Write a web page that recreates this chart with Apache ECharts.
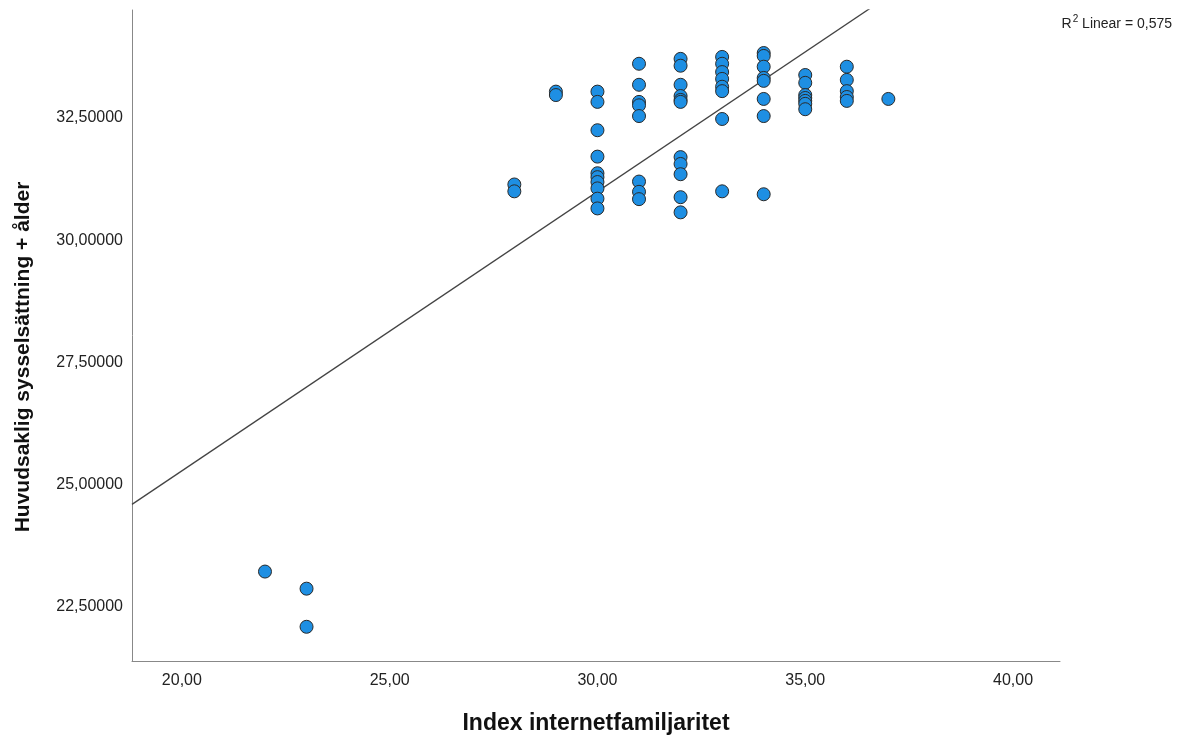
<!DOCTYPE html>
<html>
<head>
<meta charset="utf-8">
<title>Index internetfamiljaritet</title>
<script src="https://cdn.jsdelivr.net/npm/echarts@6/dist/echarts.min.js"></script>
<style>
  html, body { margin: 0; padding: 0; background: #fff; }
  #chart { width: 1202px; height: 742px; }
</style>
</head>
<body>
<div id="chart"></div>
<script>
// Index values (x) and the observed scores for each index value (y)
const familiarityLevels = [22, 23, 28, 29, 30, 31, 32, 33, 34, 35, 36, 37];
const scoresByLevel = [
  [23.22],
  [22.87, 22.09],
  [31.14, 31.00],
  [33.04, 32.97],
  [33.04, 32.83, 32.25, 31.71, 31.37, 31.29, 31.19, 31.06, 30.85, 30.65],
  [33.61, 33.18, 32.83, 32.76, 32.54, 31.20, 30.99, 30.84],
  [33.71, 33.57, 33.18, 32.95, 32.87, 32.83, 31.70, 31.56, 31.35, 30.88, 30.57],
  [33.75, 33.61, 33.44, 33.30, 33.14, 33.05, 32.48, 31.00],
  [33.83, 33.77, 33.55, 33.32, 33.26, 32.89, 32.54, 30.94],
  [33.38, 33.22, 32.97, 32.91, 32.85, 32.79, 32.68],
  [33.55, 33.28, 33.05, 32.93, 32.85],
  [32.89]
];
// Linear fit line (intercept, slope) and its R²
const fitIntercept = 13.85;
const fitSlope = 0.5715;
const fitLabel = '0,575';

const xTicks = [20, 25, 30, 35, 40];
const yTicks = [22.5, 25, 27.5, 30, 32.5];
const xRange = [18.8, 41.13];
const yRange = [21.39, 34.71];
const xTitle = 'Index internetfamiljaritet';
const yTitle = 'Huvudsaklig sysselsättning + ålder';

// Pair every score with its index value
const points = [];
familiarityLevels.forEach((x, i) => {
  scoresByLevel[i].forEach(y => points.push([x, y]));
});
const fitLine = xRange.map(x => [x, fitIntercept + fitSlope * x]);

const comma = (v, d) => v.toFixed(d).replace('.', ',');
const FONT = '"Liberation Sans", Arial, sans-serif';

const chart = echarts.init(document.getElementById('chart'), null, { renderer: 'canvas' });
chart.setOption({
  animation: false,
  backgroundColor: '#ffffff',
  grid: { left: 132, right: 142, top: 10, bottom: 81, containLabel: false },
  title: {
    right: 25, top: 9,
    text: '{a|R}{s|2}{a| Linear = ' + fitLabel + '}',
    textStyle: {
      fontWeight: 'normal',
      rich: {
        a: { fontFamily: FONT, fontSize: 14, fontWeight: 'normal', color: '#222', verticalAlign: 'bottom', lineHeight: 17 },
        s: { fontFamily: FONT, fontSize: 10, fontWeight: 'normal', color: '#222', verticalAlign: 'top', padding: [0, 0, 6, 1], lineHeight: 17 }
      }
    }
  },
  xAxis: {
    type: 'value',
    min: xRange[0], max: xRange[1],
    splitLine: { show: false },
    axisLine: { show: true, onZero: false, lineStyle: { color: '#888', width: 1 } },
    axisTick: { show: false },
    axisLabel: {
      customValues: xTicks,
      formatter: v => comma(v, 2),
      color: '#222', fontFamily: FONT, fontSize: 16, margin: 12
    },
    name: xTitle,
    nameLocation: 'middle',
    nameGap: 51,
    nameTextStyle: { fontFamily: FONT, fontSize: 23, fontWeight: 'bold', color: '#111' }
  },
  yAxis: {
    type: 'value',
    min: yRange[0], max: yRange[1],
    splitLine: { show: false },
    axisLine: { show: true, onZero: false, lineStyle: { color: '#888', width: 1 } },
    axisTick: { show: false },
    axisLabel: {
      customValues: yTicks,
      formatter: v => comma(v, 5),
      color: '#222', fontFamily: FONT, fontSize: 16, margin: 9
    }
  },
  graphic: [{
    type: 'text',
    x: 23, y: 357,
    rotation: Math.PI / 2,
    style: {
      text: yTitle,
      font: 'bold 21px ' + FONT,
      fill: '#111',
      textAlign: 'center',
      textVerticalAlign: 'middle'
    }
  }],
  series: [
    {
      type: 'line',
      data: fitLine,
      symbol: 'none',
      clip: true,
      silent: true,
      lineStyle: { color: '#444', width: 1.3 },
      z: 1
    },
    {
      type: 'scatter',
      data: points,
      symbol: 'circle',
      symbolSize: 13,
      itemStyle: { color: '#1e8fe3', borderColor: '#2a2a2a', borderWidth: 1, opacity: 1 },
      z: 2
    }
  ]
});
</script>
</body>
</html>
